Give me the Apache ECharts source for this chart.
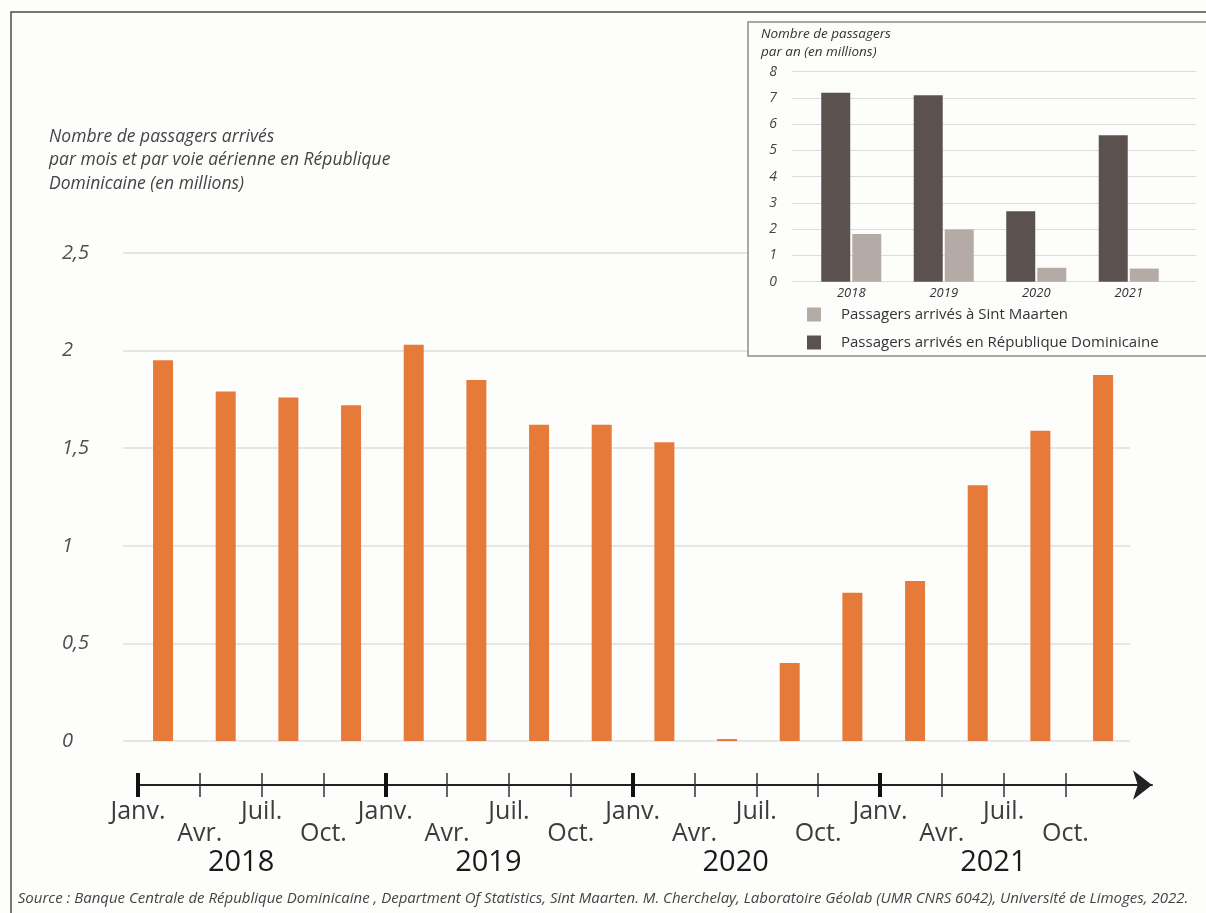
<!DOCTYPE html>
<html>
<head>
<meta charset="utf-8">
<script src="https://cdn.jsdelivr.net/npm/echarts@6/dist/echarts.min.js"></script>
<style>
html,body{margin:0;padding:0;background:#fdfdfc;}
#chart{width:1206px;height:913px;}
</style>
</head>
<body>
<div id="chart"></div>
<script>
// ---- Data ----
const quarterCategories = [
  'Janv. 2018','Avr. 2018','Juil. 2018','Oct. 2018',
  'Janv. 2019','Avr. 2019','Juil. 2019','Oct. 2019',
  'Janv. 2020','Avr. 2020','Juil. 2020','Oct. 2020',
  'Janv. 2021','Avr. 2021','Juil. 2021','Oct. 2021'
];
const monthlyArrivalsRD = [1.95, 1.79, 1.76, 1.72, 2.03, 1.85, 1.62, 1.62, 1.53, 0.01, 0.40, 0.76, 0.82, 1.31, 1.59, 1.875];

const years = ['2018', '2019', '2020', '2021'];
const annualRD = [7.2, 7.1, 2.68, 5.58];
const annualSM = [1.82, 1.99, 0.53, 0.50];

const monthNames = ['Janv.', 'Avr.', 'Juil.', 'Oct.'];
const timelineMonths = [0, 3, 6, 9, 12, 15, 18, 21, 24, 27, 30, 33, 36, 39, 42, 45];
const januaryMonths = [0, 12, 24, 36];
const yearLabelMonths = [5, 17, 29, 41.5];

const nameSM = 'Passagers arrivés à Sint Maarten';
const nameRD = 'Passagers arrivés en République Dominicaine';

const FONT = "'Open Sans', 'Noto Sans', sans-serif";

const chart = echarts.init(document.getElementById('chart'), null, {renderer: 'canvas'});

const timelineBase = {
  gridIndex: 2, type: 'value', min: 0, max: 49.2,
  splitLine: {show: false}
};

const option = {
  backgroundColor: '#fdfdfc',
  textStyle: {fontFamily: FONT},
  animation: false,
  title: [
    {
      text: 'Nombre de passagers arrivés\npar mois et par voie aérienne en République\nDominicaine (en millions)',
      left: 49, top: 125, padding: 0,
      textStyle: {fontFamily: FONT, fontSize: 17.5, fontStyle: 'italic', fontWeight: 'normal', lineHeight: 23.5, color: '#444'}
    },
    {
      text: 'Nombre de passagers\npar an (en millions)',
      left: 761, top: 25, padding: 0, z: 10,
      textStyle: {fontFamily: FONT, fontSize: 13.5, fontStyle: 'italic', fontWeight: 'normal', lineHeight: 18, color: '#333'}
    },
    {
      text: 'Source : Banque Centrale de République Dominicaine , Department Of Statistics, Sint Maarten. M. Cherchelay, Laboratoire Géolab (UMR CNRS 6042), Université de Limoges, 2022.',
      left: 'center', top: 891, padding: 0,
      textStyle: {fontFamily: FONT, fontSize: 15, fontStyle: 'italic', fontWeight: 'normal', color: '#444'}
    }
  ],
  graphic: [
    {type: 'rect', z: 1, shape: {x: 11, y: 12, width: 1400, height: 1000}, style: {fill: null, stroke: '#4a4a4a', lineWidth: 1.5}},
    {type: 'rect', z: 3, shape: {x: 748, y: 22, width: 600, height: 334}, style: {fill: '#fdfdfc', stroke: '#8c8c8c', lineWidth: 1.5}}
  ],
  legend: {
    data: [nameSM, nameRD],
    orient: 'vertical', left: 807, top: 307, padding: 0,
    itemWidth: 14, itemHeight: 14, itemGap: 13, icon: 'rect', z: 10,
    textStyle: {fontFamily: FONT, fontSize: 15, color: '#333', lineHeight: 15, padding: [0, 0, 0, 15]}
  },
  grid: [
    {left: 123, width: 1007, top: 253, height: 488},      // main gridlines
    {left: 131.7, width: 1002.7, top: 253, height: 488},  // main bars
    {left: 138, width: 1014, top: 785, height: 0},        // timeline
    {left: 792, width: 404, top: 71.7, height: 210},      // inset gridlines
    {left: 805, width: 370, top: 71.7, height: 210}       // inset bars
  ],
  xAxis: [
    {gridIndex: 0, type: 'category', data: quarterCategories, show: false},
    {gridIndex: 1, type: 'category', data: quarterCategories, show: false},
    Object.assign({}, timelineBase, {
      position: 'bottom',
      axisLine: {show: true, onZero: false, symbol: ['none', 'arrow'], symbolSize: [22, 19], lineStyle: {color: '#222', width: 2}},
      axisTick: {show: true, customValues: timelineMonths, length: 12, lineStyle: {color: '#333', width: 1.5}},
      axisLabel: {
        show: true, customValues: timelineMonths, margin: 16,
        fontFamily: FONT, fontSize: 25, lineHeight: 21.6, color: '#3c3c3c',
        formatter: function (v) {
          const name = monthNames[Math.round(v / 3) % 4];
          return (Math.round(v / 3) % 2 === 1) ? '\n' + name : name;
        }
      }
    }),
    Object.assign({}, timelineBase, {
      position: 'top',
      axisLine: {show: false, onZero: false},
      axisTick: {show: true, customValues: timelineMonths, length: 12, lineStyle: {color: '#333', width: 1.5}},
      axisLabel: {show: false}
    }),
    Object.assign({}, timelineBase, {
      position: 'bottom',
      axisLine: {show: false, onZero: false},
      axisTick: {show: true, customValues: januaryMonths, length: 12, lineStyle: {color: '#111', width: 4}},
      axisLabel: {show: false}
    }),
    Object.assign({}, timelineBase, {
      position: 'top',
      axisLine: {show: false, onZero: false},
      axisTick: {show: true, customValues: januaryMonths, length: 12, lineStyle: {color: '#111', width: 4}},
      axisLabel: {show: false}
    }),
    Object.assign({}, timelineBase, {
      position: 'bottom',
      axisLine: {show: false, onZero: false},
      axisTick: {show: false},
      axisLabel: {
        show: true, customValues: yearLabelMonths, margin: 63,
        fontFamily: FONT, fontSize: 29, lineHeight: 29, color: '#1a1a1a',
        formatter: function (v) { return years[yearLabelMonths.indexOf(v)]; }
      }
    }),
    {gridIndex: 3, type: 'category', data: years, show: false},
    {
      gridIndex: 4, type: 'category', data: years, z: 5,
      axisLine: {show: false}, axisTick: {show: false},
      axisLabel: {margin: 5, fontFamily: FONT, fontSize: 13, fontStyle: 'italic', color: '#333'}
    }
  ],
  yAxis: [
    {
      gridIndex: 0, type: 'value', min: 0, max: 2.5, interval: 0.5,
      axisLine: {show: false}, axisTick: {show: false},
      axisLabel: {
        align: 'left', margin: 61, fontFamily: FONT, fontSize: 20, fontStyle: 'italic', color: '#505050',
        formatter: function (v) { return String(v).replace('.', ','); }
      },
      splitLine: {lineStyle: {color: '#dedede', width: 1.5}}
    },
    {gridIndex: 1, type: 'value', min: 0, max: 2.5, show: false},
    {gridIndex: 2, type: 'value', min: 0, max: 1, show: false},
    {
      gridIndex: 3, type: 'value', min: 0, max: 8, interval: 1, z: 5,
      axisLine: {show: false}, axisTick: {show: false},
      axisLabel: {margin: 15, fontFamily: FONT, fontSize: 14, fontStyle: 'italic', color: '#444'},
      splitLine: {lineStyle: {color: '#dcdcdc', width: 1.2}}
    },
    {gridIndex: 4, type: 'value', min: 0, max: 8, show: false}
  ],
  series: [
    {
      name: 'Passagers mensuels',
      type: 'bar', xAxisIndex: 1, yAxisIndex: 1,
      data: monthlyArrivalsRD, barWidth: 20,
      itemStyle: {color: '#e67a38'}
    },
    {
      name: nameRD, type: 'bar', xAxisIndex: 8, yAxisIndex: 4, z: 6,
      data: annualRD, barWidth: 29, barGap: '7%',
      itemStyle: {color: '#5b524f'}
    },
    {
      name: nameSM, type: 'bar', xAxisIndex: 8, yAxisIndex: 4, z: 6,
      data: annualSM, barWidth: 29, barGap: '7%',
      itemStyle: {color: '#b4aba7'}
    }
  ]
};

chart.setOption(option);
</script>
</body>
</html>
